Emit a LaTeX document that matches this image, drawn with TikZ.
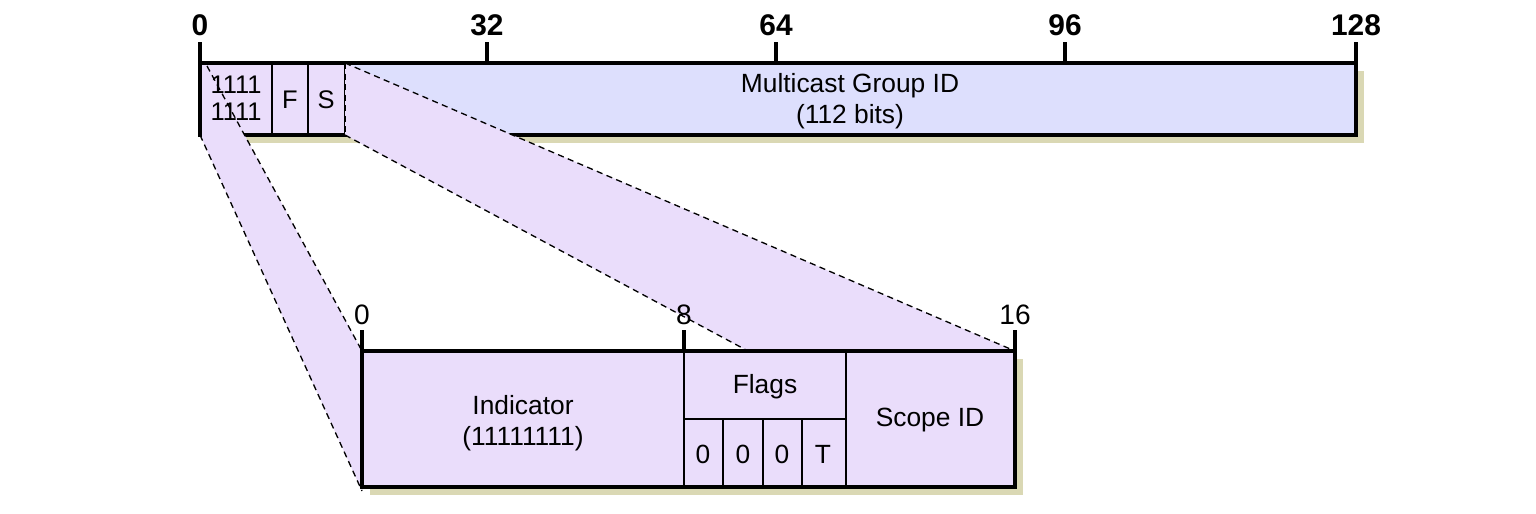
\documentclass[tikz,border=0pt]{standalone}
\usepackage{fontspec}
\setmainfont{Liberation Sans}
\definecolor{barblue}{HTML}{DDDFFD}
\definecolor{lav}{HTML}{EADDFB}
\definecolor{shad}{HTML}{DAD8B4}
\begin{document}
\begin{tikzpicture}[x=0.02cm,y=-0.02cm,
  boxline/.style={draw=black,line width=2pt},
  divline/.style={draw=black,line width=0.9pt},
  tickline/.style={draw=black,line width=2pt},
  projline/.style={draw=black,line width=0.75pt,dash pattern=on 3.5pt off 2.5pt},
  toplbl/.style={font=\fontsize{17}{20}\bfseries\selectfont,inner sep=0pt},
  botlbl/.style={font=\fontsize{16}{19}\selectfont,inner sep=0pt},
  txt/.style={font=\fontsize{15}{18}\selectfont,align=center,inner sep=0pt},
  smalltxt/.style={font=\fontsize{14.5}{16.5}\selectfont,align=center,inner sep=0pt}]
\useasboundingbox (0,0) rectangle (1536,514);

% corner coordinates
\coordinate (TL) at (200,63);
\coordinate (TBL) at (200,135);
\coordinate (TIL) at (207,66);
\coordinate (STR) at (345,63);
\coordinate (SBR) at (345,135);
\coordinate (LTL) at (362,351);
\coordinate (LBL) at (362,491);
\coordinate (LTR) at (1015,351);
\coordinate (LF) at (748,351);

% top bar
\fill[shad] (208,71) rectangle (1364,143);
\fill[barblue] (200,63) rectangle (1356,135);
\fill[lav] (200,63) rectangle (345,135);
\draw[divline] (272,63) -- (272,135) (308,63) -- (308,135) (345,63) -- (345,135);
\draw[boxline] (200,63) rectangle (1356,135);
\foreach \x/\t/\n in {200/0/a,487/32/b,776/64/c,1065/96/d,1356/128/e}{
  \draw[tickline] (\x,42) -- (\x,63);
  \node[toplbl] (top\n) at (\x,25) {\t};
}
\node[txt] (mgid) at (850,101) {Multicast Group ID\\(112 bits)};

% lower box
\fill[shad] (370,359) rectangle (1023,495);
\fill[lav] (362,351) rectangle (1015,487);

% projection fills
\fill[lav] (TIL) -- (LTL) -- (LBL) -- (TBL) -- cycle;
\fill[lav] (STR) -- (LTR) -- (LF) -- (SBR) -- cycle;

\node[smalltxt] (ind8) at (236,98) {1111\\[-1pt]1111};
\node[smalltxt] (fl) at (290,100) {F};
\node[smalltxt] (sc) at (326,100) {S};

% lower box structure
\draw[divline] (684,351) -- (684,487) (846,351) -- (846,487) (684,419) -- (846,419)
  (723,419) -- (723,487) (763,419) -- (763,487) (802,419) -- (802,487);
\draw[boxline] (362,351) rectangle (1015,487);
\foreach \x/\t/\n in {362/0/a,684/8/b,1015/16/c}{
  \draw[tickline] (\x,330) -- (\x,351);
  \node[botlbl] (bot\n) at (\x,315) {\t};
}
\node[txt] (indic) at (523,423) {Indicator\\(11111111)};
\node[txt] (flags) at (765,387) {Flags};
\node[txt] (scope) at (930,420) {Scope ID};
\node[txt] (f1) at (703,454) {0};
\node[txt] (f2) at (743,454) {0};
\node[txt] (f3) at (782,454) {0};
\node[txt] (f4) at (823,454) {T};

% projection lines
\draw[projline] (TIL) -- (LTL);
\draw[projline] (TBL) -- (LBL);
\draw[projline] (STR) -- (LTR);
\draw[projline] (SBR) -- (LF);
\draw[projline] (STR) -- (SBR);
\draw[tickline] (200,42) -- (200,137);
\end{tikzpicture}
\end{document}
